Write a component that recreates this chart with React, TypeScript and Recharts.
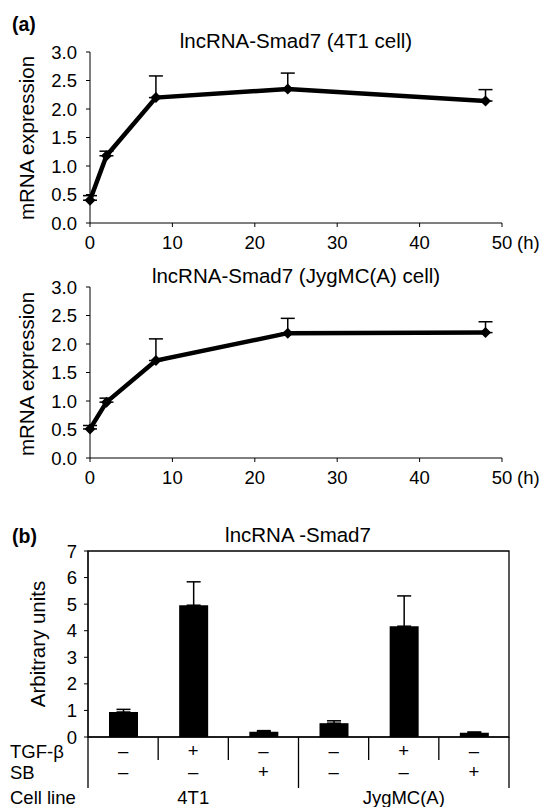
import React from "react";
import {
  LineChart,
  Line,
  BarChart,
  Bar,
  XAxis,
  YAxis,
  ErrorBar,
  ReferenceArea,
} from "recharts";

// time course (panel a)
const hours = [0, 2, 8, 24, 48];
const fourT1Expr = [0.4, 1.18, 2.2, 2.35, 2.14];
const fourT1Err = [0.08, 0.08, 0.38, 0.28, 0.2];
const jygExpr = [0.51, 0.98, 1.71, 2.19, 2.2];
const jygErr = [0.06, 0.07, 0.38, 0.26, 0.19];
const hourTicks = [0, 10, 20, 30, 40, 50];
const exprTicks = [0, 0.5, 1, 1.5, 2, 2.5, 3];

// treatment bars (panel b)
const tgfRow = ["–", "+", "–", "–", "+", "–"];
const sbRow = ["–", "–", "+", "–", "–", "+"];
const cellLines = ["4T1", "JygMC(A)"];
const barValues = [0.94, 4.96, 0.2, 0.52, 4.17, 0.16];
const barErr = [0.1, 0.88, 0.04, 0.09, 1.14, 0.03];
const unitTicks = [0, 1, 2, 3, 4, 5, 6, 7];

const FONT = '"Liberation Sans", Arial, Helvetica, sans-serif';
const INK = "#000";

const B_LEFT = 88;
const B_RIGHT = 509;
const BAND = (B_RIGHT - B_LEFT) / barValues.length;

const toSeries = (vals: number[], errs: number[]) =>
  hours.map((h, i) => ({ h, v: vals[i], e: [0, errs[i]] }));

const Diamond = (props: any) => {
  const { cx, cy, index } = props;
  if (cx == null || cy == null) return null;
  const r = 5.5;
  return (
    <path
      key={`d-${index}`}
      d={`M${cx},${cy - r}L${cx + r},${cy}L${cx},${cy + r}L${cx - r},${cy}Z`}
      fill={INK}
    />
  );
};

const HourTick = (props: any) => {
  const { x, y, payload } = props;
  return (
    <g>
      <text x={x} y={y} dy="0.71em" textAnchor="middle" fontSize={18.5} fill={INK}>
        {payload.value}
      </text>
      {payload.value === 50 && (
        <text x={x + 15} y={y} dy="0.71em" textAnchor="start" fontSize={18.5} fill={INK}>
          (h)
        </text>
      )}
    </g>
  );
};

function TimeCourse({ vals, errs, top, marginTop }: any) {
  const data = toSeries(vals, errs);
  return (
    <div style={{ position: "absolute", left: 0, top }}>
      <LineChart
        width={541}
        height={260}
        data={data}
        margin={{ top: marginTop, right: 39, bottom: 260 - marginTop - 171 - 30, left: 30 }}
      >
        <XAxis
          dataKey="h"
          type="number"
          domain={[0, 50]}
          ticks={hourTicks}
          interval={0}
          height={30}
          stroke={INK}
          tickSize={4}
          tickMargin={9}
          tick={<HourTick />}
        />
        <YAxis
          type="number"
          domain={[0, 3]}
          ticks={exprTicks}
          interval={0}
          width={60}
          stroke={INK}
          tickSize={4}
          tickMargin={9}
          tickFormatter={(v: number) => v.toFixed(1)}
          tick={{ fontSize: 18.5, fill: INK }}
        />
        <Line
          dataKey="v"
          type="linear"
          stroke={INK}
          strokeWidth={4.5}
          dot={Diamond}
          activeDot={false}
          isAnimationActive={false}
        >
          <ErrorBar
            dataKey="e"
            direction="y"
            width={7}
            stroke={INK}
            strokeWidth={1.5}
            isAnimationActive={false}
          />
        </Line>
      </LineChart>
    </div>
  );
}

const TableTick = (props: any) => {
  const { x, y, index } = props;
  const half = BAND / 2;
  const longLeft = index % 3 === 0;
  const last = index === barValues.length - 1;
  return (
    <g fill={INK} fontSize={18.5}>
      <line x1={x - half} x2={x - half} y1={y} y2={y + (longLeft ? 51 : 23)} stroke={INK} strokeWidth={1.3} />
      {last && (
        <line x1={x + half} x2={x + half} y1={y} y2={y + 51} stroke={INK} strokeWidth={1.3} />
      )}
      <text x={x} y={y + 20} textAnchor="middle">{tgfRow[index]}</text>
      <text x={x} y={y + 41} textAnchor="middle">{sbRow[index]}</text>
      {index % 3 === 1 && (
        <text x={x} y={y + 67} textAnchor="middle">{cellLines[Math.floor(index / 3)]}</text>
      )}
      {index === 0 && (
        <>
          <text x={10} y={y + 21} textAnchor="start">TGF-β</text>
          <text x={10} y={y + 41.5} textAnchor="start">SB</text>
          <text x={10} y={y + 67} textAnchor="start">Cell line</text>
        </>
      )}
    </g>
  );
};

function Treatments() {
  const data = barValues.map((v, i) => ({ k: i, v, e: [0, barErr[i]] }));
  return (
    <div style={{ position: "absolute", left: 0, top: 520 }}>
      <BarChart
        width={541}
        height={287}
        data={data}
        margin={{ top: 31, right: 541 - B_RIGHT, bottom: 0, left: 30 }}
        barSize={29}
      >
        <ReferenceArea y1={0} y2={7} fill="none" fillOpacity={0} stroke={INK} strokeWidth={1.3} />
        <XAxis
          dataKey="k"
          interval={0}
          height={70}
          stroke={INK}
          tickLine={false}
          tickSize={0}
          tickMargin={0}
          tick={<TableTick />}
        />
        <YAxis
          type="number"
          domain={[0, 7]}
          ticks={unitTicks}
          interval={0}
          width={B_LEFT - 30}
          stroke={INK}
          tickSize={4}
          tickMargin={7}
          tick={{ fontSize: 18.5, fill: INK }}
        />
        <Bar dataKey="v" fill={INK} isAnimationActive={false}>
          <ErrorBar
            dataKey="e"
            direction="y"
            width={7}
            stroke={INK}
            strokeWidth={1.5}
            isAnimationActive={false}
          />
        </Bar>
      </BarChart>
    </div>
  );
}

export default function App() {
  return (
    <div
      style={{
        position: "absolute",
        left: 0,
        top: 0,
        width: 541,
        height: 807,
        background: "#fff",
        fontFamily: FONT,
        color: INK,
      }}
    >
      <TimeCourse vals={fourT1Expr} errs={fourT1Err} top={0} marginTop={52} />
      <TimeCourse vals={jygExpr} errs={jygErr} top={236} marginTop={51} />
      <Treatments />
      <svg
        width={541}
        height={807}
        style={{ position: "absolute", left: 0, top: 0, pointerEvents: "none" }}
        fill={INK}
      >
        <text x={12} y={31} fontSize={19.5} fontWeight="bold">(a)</text>
        <text x={296} y={48} fontSize={20.5} textAnchor="middle">lncRNA-Smad7 (4T1 cell)</text>
        <text x={34} y={138} fontSize={20.5} textAnchor="middle" transform="rotate(-90 34 138)">
          mRNA expression
        </text>
        <text x={296} y={283} fontSize={20.5} textAnchor="middle">lncRNA-Smad7 (JygMC(A) cell)</text>
        <text x={34} y={374} fontSize={20.5} textAnchor="middle" transform="rotate(-90 34 374)">
          mRNA expression
        </text>
        <text x={12} y={543} fontSize={19.5} fontWeight="bold">(b)</text>
        <text x={298} y={542} fontSize={20.5} textAnchor="middle">lncRNA -Smad7</text>
        <text x={45} y={644} fontSize={20.5} textAnchor="middle" transform="rotate(-90 45 644)">
          Arbitrary units
        </text>
      </svg>
    </div>
  );
}
